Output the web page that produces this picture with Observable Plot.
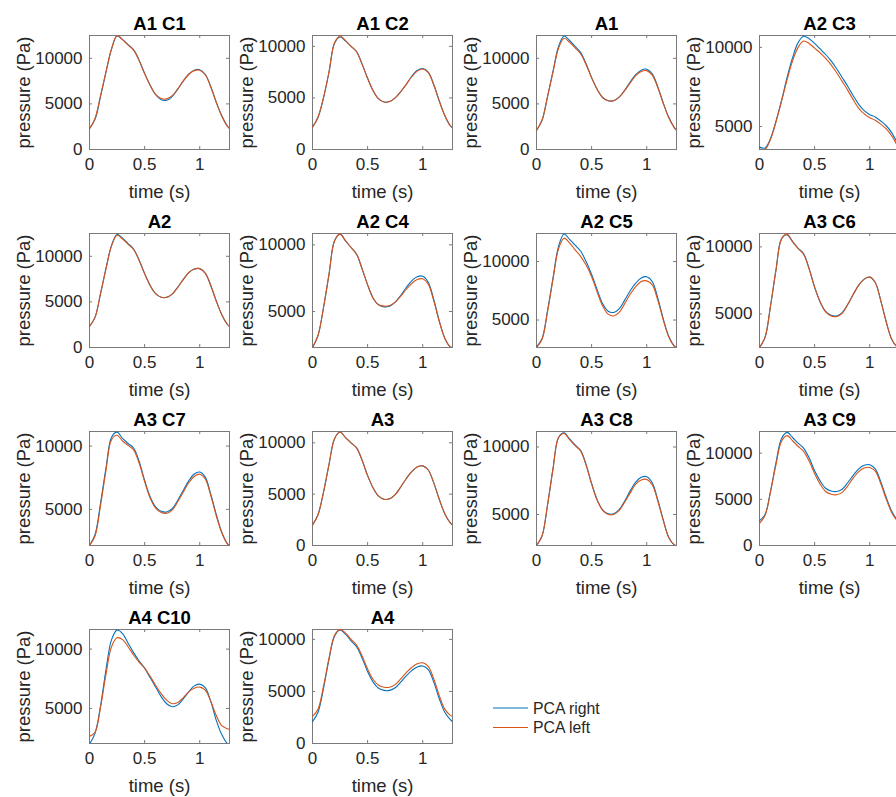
<!DOCTYPE html>
<html><head><meta charset="utf-8">
<script src="https://cdn.jsdelivr.net/npm/d3@7"></script>
<script src="https://cdn.jsdelivr.net/npm/@observablehq/plot@0.6"></script>
<style>
html,body{margin:0;padding:0;background:#fff;}
#root{position:relative;width:896px;height:797px;overflow:hidden;font-family:"Liberation Sans",Arial,sans-serif;}
.panel{position:absolute;}
#legend{position:absolute;left:490px;top:697px;}
</style></head><body><div id="root"></div>
<script>
// ---- data ----
const time = [0,0.05,0.1,0.15,0.2,0.25,0.3,0.35,0.4,0.45,0.5,0.55,0.6,0.65,0.7,0.75,0.8,0.85,0.9,0.95,1.0,1.05,1.1,1.15,1.2,1.25,1.27];
const xTicks = [0, 0.5, 1];
const xTickLabels = ["0", "0.5", "1"];
const yTicks = [0, 5000, 10000];
const seriesNames = ["PCA right", "PCA left"];
const titles = ["A1 C1","A1 C2","A1","A2 C3","A2","A2 C4","A2 C5","A3 C6","A3 C7","A3","A3 C8","A3 C9","A4 C10","A4"];
const yDomains = [[0,12500],[0,11050],[0,12500],[3550,10750],[0,12500],[2300,10850],[2650,12400],[2500,11000],[2150,11150],[0,11100],[2700,11150],[0,12350],[2050,11650],[0,10950]];

const a1c1Right = [2300,3300,5800,8500,11000,12450,12050,11500,10950,9800,8350,7050,6000,5450,5400,5800,6600,7500,8250,8700,8750,8250,6900,5200,3700,2600,2300];
const a1c1Left  = [2250,3400,5900,8550,11050,12500,12050,11450,10900,9750,8300,7050,6050,5600,5550,5900,6650,7500,8250,8650,8700,8200,6850,5150,3650,2550,2300];
const a1c2Right = [2150,3100,5000,7500,10300,10900,10500,10000,9500,8300,6900,5700,4900,4600,4650,5000,5600,6300,7100,7650,7850,7500,6300,4700,3300,2300,2100];
const a1c2Left  = [2150,3150,5050,7550,10350,11000,10550,10000,9450,8250,6900,5700,4900,4600,4650,5000,5600,6300,7050,7600,7800,7450,6250,4700,3300,2300,2100];
const a1Right   = [2100,3200,5800,8600,11300,12450,11950,11300,10650,9400,7900,6600,5700,5350,5350,5750,6500,7400,8200,8700,8800,8300,6900,5100,3500,2400,2100];
const a1Left    = [2100,3200,5800,8500,11100,12200,11750,11150,10500,9300,7850,6600,5700,5350,5350,5750,6450,7300,8100,8550,8650,8150,6800,5050,3500,2400,2100];
const a2c3Right = [3700,3650,4250,5350,6650,8100,9350,10300,10700,10550,10250,9900,9550,9150,8650,8100,7550,6950,6400,6000,5750,5600,5350,5050,4600,3950,3650];
const a2c3Left  = [3600,3550,4200,5300,6600,7950,9150,10000,10400,10250,9950,9650,9300,8900,8400,7850,7300,6700,6150,5800,5550,5400,5150,4850,4400,3800,3550];
const a2Right   = [2300,3300,5900,8700,11200,12400,12000,11400,10800,9600,8100,6800,5900,5500,5500,5850,6600,7450,8200,8600,8650,8150,6800,5100,3600,2550,2300];
const a2Left    = [2300,3300,5900,8650,11150,12300,11900,11300,10750,9550,8100,6800,5900,5500,5500,5850,6600,7450,8200,8600,8650,8150,6800,5100,3600,2550,2300];
const a2c4Right = [2300,3200,5300,7800,10300,10800,10300,9800,9300,8200,7000,6000,5500,5350,5400,5700,6200,6800,7300,7600,7650,7200,5900,4300,3000,2350,2300];
const a2c4Left  = [2300,3200,5300,7800,10300,10800,10300,9800,9300,8200,7000,6000,5500,5400,5450,5700,6150,6650,7100,7400,7450,7050,5800,4250,3000,2350,2300];
const a2c5Right = [2700,3400,5800,8600,11300,12350,11900,11400,10900,10000,8900,7600,6400,5750,5650,5950,6700,7500,8150,8600,8700,8300,6900,5100,3600,2800,2650];
const a2c5Left  = [2650,3350,5700,8500,11100,12000,11600,11000,10450,9700,8700,7400,6200,5500,5350,5650,6400,7200,7850,8300,8350,8000,6700,5000,3550,2750,2650];
const a3c6Right = [2500,3250,5600,8300,10600,10900,10400,9900,9500,8400,7000,5900,5200,4900,4850,5100,5700,6450,7150,7600,7750,7350,6000,4400,3100,2550,2500];
const a3c6Left  = [2500,3250,5600,8300,10600,10950,10400,9900,9450,8350,7000,5900,5150,4850,4800,5050,5700,6450,7150,7600,7750,7350,6000,4400,3100,2550,2500];
const a3c7Right = [2150,3000,5500,8300,10700,11100,10600,10200,9850,8800,7300,6000,5200,4850,4800,5050,5700,6500,7250,7800,7950,7550,6200,4600,3200,2300,2150];
const a3c7Left  = [2150,2900,5300,8100,10500,10850,10400,10050,9700,8650,7200,5900,5100,4750,4700,4950,5600,6350,7100,7600,7780,7400,6100,4500,3150,2300,2150];
const a3Right   = [2000,3000,5200,7900,10400,11050,10500,10000,9500,8300,6800,5600,4800,4500,4550,4950,5700,6500,7200,7650,7750,7350,6100,4500,3100,2200,2000];
const a3Left    = [2000,3000,5200,7900,10400,11050,10500,10000,9500,8300,6800,5600,4800,4500,4550,4950,5700,6500,7200,7650,7750,7350,6100,4500,3100,2200,2000];
const a3c8Right = [2700,3400,5700,8400,10700,11050,10600,10150,9750,8700,7300,6100,5350,5050,5050,5350,6000,6750,7400,7750,7800,7350,6100,4600,3300,2750,2700];
const a3c8Left  = [2700,3400,5700,8400,10700,11000,10550,10100,9700,8650,7250,6050,5300,5000,5000,5300,5900,6600,7250,7550,7600,7200,6000,4550,3300,2750,2700];
const a3c9Right = [2700,3350,5900,9000,11600,12250,11700,11100,10550,9500,8100,7000,6200,5900,5850,6100,6800,7600,8300,8700,8750,8300,6900,5200,3700,2800,2700];
const a3c9Left  = [2400,3250,5800,8800,11300,11900,11350,10750,10200,9150,7800,6650,5850,5550,5500,5750,6450,7300,8000,8400,8450,8050,6700,5000,3550,2650,2400];
const a4c10Right = [2000,2900,5200,8300,10800,11600,11300,10500,9700,9000,8400,7600,6800,6000,5400,5150,5300,5800,6400,6900,7050,6750,5600,4000,2800,2050,1950];
const a4c10Left  = [2650,3000,5100,7900,10200,10950,10800,10200,9500,8900,8400,7700,6950,6250,5700,5400,5500,5900,6400,6700,6800,6550,5600,4400,3550,3300,3250];
const a4Right   = [2100,3000,5300,8100,10300,10900,10500,9850,9300,8200,6900,5900,5300,5100,5100,5350,5900,6500,7000,7350,7450,7100,5900,4300,3000,2300,2100];
const a4Left    = [2600,3300,5500,8200,10400,10950,10600,10000,9450,8400,7150,6150,5600,5400,5400,5650,6200,6800,7300,7650,7750,7400,6200,4600,3300,2700,2600];

const rights = [a1c1Right,a1c2Right,a1Right,a2c3Right,a2Right,a2c4Right,a2c5Right,a3c6Right,a3c7Right,a3Right,a3c8Right,a3c9Right,a4c10Right,a4Right];
const lefts  = [a1c1Left,a1c2Left,a1Left,a2c3Left,a2Left,a2c4Left,a2c5Left,a3c6Left,a3c7Left,a3Left,a3c8Left,a3c9Left,a4c10Left,a4Left];

// ---- layout ----
const colors = ["#0072BD", "#D95319"];
const FW = 140, FH = 114;
const ML = 82, MR = 8, MT = 36, MB = 60;
const colLeft = [89, 312, 536, 759];
const rowTop = [35, 233, 431, 629];
const axisGray = "#7a7a7a";
const textColor = "#262626";
const font = "'Liberation Sans', Arial, Helvetica, sans-serif";

const root = document.getElementById("root");

titles.forEach((title, i) => {
  const col = i % 4, row = Math.floor(i / 4);
  const yd = yDomains[i];
  const yt = yTicks.filter(v => v >= yd[0] && v <= yd[1]);
  const data = [];
  time.forEach((t, k) => data.push({t, v: rights[i][k], s: seriesNames[0]}));
  time.forEach((t, k) => data.push({t, v: lefts[i][k], s: seriesNames[1]}));
  const chart = Plot.plot({
    width: ML + FW + MR, height: MT + FH + MB,
    marginLeft: ML, marginRight: MR, marginTop: MT, marginBottom: MB,
    style: {fontFamily: font, fontSize: "17px", color: textColor, background: "none", overflow: "visible"},
    x: {domain: [0, 1.27], ticks: xTicks, tickFormat: d => xTickLabels[xTicks.indexOf(d)], tickSize: 0, tickPadding: 8, label: null},
    y: {domain: yd, ticks: yt, tickFormat: d => String(d), tickSize: 0, tickPadding: 7, label: null},
    color: {domain: seriesNames, range: colors},
    marks: [
      Plot.frame({stroke: axisGray, strokeWidth: 1}),
      Plot.tickX(xTicks, {x: d => d, insetTop: FH - 3, stroke: axisGray}),
      Plot.tickX(xTicks, {x: d => d, insetBottom: FH - 3, stroke: axisGray}),
      Plot.tickY(yt, {y: d => d, insetRight: FW - 3, stroke: axisGray}),
      Plot.tickY(yt, {y: d => d, insetLeft: FW - 3, stroke: axisGray}),
      Plot.line(data, {x: "t", y: "v", z: "s", stroke: "s", strokeWidth: 1.1, curve: "catmull-rom", clip: true}),
      Plot.text([title], {frameAnchor: "top", lineAnchor: "middle", textAnchor: "middle", dy: -11, text: d => d, fontWeight: "bold", fontSize: 18.5, fill: "#000"}),
      Plot.text(["time (s)"], {frameAnchor: "bottom", lineAnchor: "middle", textAnchor: "middle", dy: 43, text: d => d, fontSize: 18.5, fill: textColor}),
      Plot.text(["pressure (Pa)"], {frameAnchor: "left", lineAnchor: "middle", textAnchor: "middle", dx: -65, rotate: -90, text: d => d, fontSize: 18.5, fill: textColor})
    ]
  });
  chart.classList.add("panel");
  chart.style.left = (colLeft[col] - ML) + "px";
  chart.style.top = (rowTop[row] - MT) + "px";
  root.appendChild(chart);
});

// ---- legend ----
const ns = "http://www.w3.org/2000/svg";
const lg = document.createElementNS(ns, "svg");
lg.setAttribute("id", "legend");
lg.setAttribute("width", 140);
lg.setAttribute("height", 44);
seriesNames.forEach((name, i) => {
  const y = 11 + i * 19.5;
  const ln = document.createElementNS(ns, "line");
  ln.setAttribute("x1", 3); ln.setAttribute("x2", 38);
  ln.setAttribute("y1", y); ln.setAttribute("y2", y);
  ln.setAttribute("stroke", colors[i]); ln.setAttribute("stroke-width", 1.1);
  lg.appendChild(ln);
  const tx = document.createElementNS(ns, "text");
  tx.setAttribute("x", 43); tx.setAttribute("y", y);
  tx.setAttribute("dominant-baseline", "central");
  tx.setAttribute("font-family", font);
  tx.setAttribute("font-size", 15.8);
  tx.setAttribute("fill", textColor);
  tx.textContent = name;
  lg.appendChild(tx);
});
root.appendChild(lg);
</script>
</body></html>
